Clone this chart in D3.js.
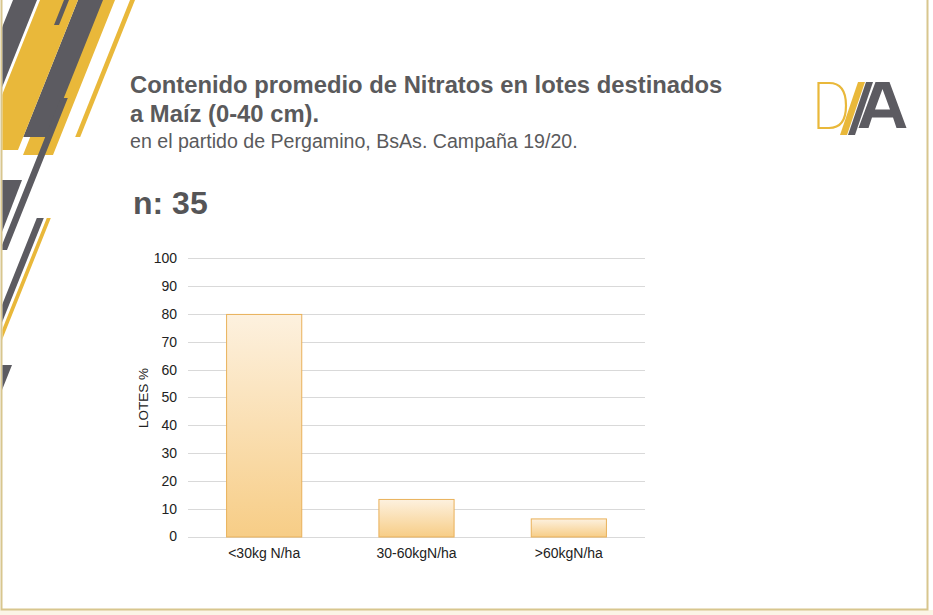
<!DOCTYPE html>
<html>
<head>
<meta charset="utf-8">
<script src="https://cdn.jsdelivr.net/npm/d3@7"></script>
<style>
  html, body { margin: 0; padding: 0; background: #ffffff; }
  svg { display: block; font-family: "Liberation Sans", Arial, sans-serif; }
</style>
</head>
<body>
<svg id="chart" width="933" height="615"></svg>
<script>
// ---- data ----
const categories = ["<30kg N/ha", "30-60kgN/ha", ">60kgN/ha"];
const values = [80, 13.5, 6.5];
const yTicks = [0, 10, 20, 30, 40, 50, 60, 70, 80, 90, 100];
const titleLines = ["Contenido promedio de Nitratos en lotes destinados", "a Maíz (0-40 cm)."];
const subtitle = "en el partido de Pergamino, BsAs. Campaña 19/20.";
const nLabel = "n: 35";
const yLabel = "LOTES %";

const svg = d3.select("#chart");
const W = 933, H = 615;

const GOLD = "#e9b83a", GRAY = "#5c5b61", FRAME = "#d8c68e", TEXT = "#5a5a5c";

// ---- frame ----
svg.append("rect").attr("x", 0).attr("y", 610).attr("width", W).attr("height", 5).attr("fill", "#fbf5e6");
svg.append("path")
  .attr("d", "M1.5,0 V609.5 H927.5 V0")
  .attr("fill", "none").attr("stroke", FRAME).attr("stroke-width", 2);

// ---- decoration (left stripes) ----
const defs = svg.append("defs");
defs.append("clipPath").attr("id", "decoClip")
  .append("rect").attr("x", 2.5).attr("y", 0).attr("width", 200).attr("height", 420);
const deco = svg.append("g").attr("clip-path", "url(#decoClip)");
const s = 0.4;
function para(xTop, w, y1, y2) {
  return `M${xTop - s*y1},${y1} L${xTop + w - s*y1},${y1} L${xTop + w - s*y2},${y2} L${xTop - s*y2},${y2} Z`;
}
const stripes = [
  {x: 85, w: 30, y1: 0, y2: 155, c: GOLD},
  {x: 78, w: 25, y1: 0, y2: 137, c: GRAY},
  {x: 40, w: 38, y1: 0, y2: 150, c: GOLD},
  {x: 64, w: 5, y1: 0, y2: 25, c: GRAY},
  {x: 13, w: 24, y1: 0, y2: 120, c: GRAY},
  {x: 130, w: 5, y1: 0, y2: 137, c: GOLD},
  {x: 100, w: 7, y1: 98, y2: 250, c: GRAY},
  {x: 124, w: 7, y1: 218, y2: 330, c: GRAY},
  {x: 134, w: 4, y1: 218, y2: 345, c: GOLD}
];
stripes.forEach(d => deco.append("path").attr("d", para(d.x, d.w, d.y1, d.y2)).attr("fill", d.c));
deco.append("path").attr("d", "M2,180 L22,180 L2,232 Z").attr("fill", GRAY);
deco.append("path").attr("d", "M2,365 L12,365 L2,390 Z").attr("fill", GRAY);

// ---- logo D/A ----
const logo = svg.append("g");
logo.append("path")
  .attr("d", "M818.5,83 H829 C843,83 846,95 846,105.5 C846,116 843,128 829,128 H818.5 Z")
  .attr("fill", "none").attr("stroke", GOLD).attr("stroke-width", 2.2);
logo.append("path").attr("d", "M858,82 L865,82 L847,135 L840,135 Z").attr("fill", GOLD);
logo.append("path").attr("d", "M866,82 L873,82 L855,135 L848,135 Z").attr("fill", GRAY);
logo.append("path")
  .attr("d", "M875.5,82 L889.5,82 L906.5,128 L896.5,128 L893,117.5 L872,117.5 L868.5,128 L858.5,128 Z M875,109.5 L890,109.5 L882.5,89 Z")
  .attr("fill", GRAY).attr("fill-rule", "evenodd");

// ---- titles ----
svg.append("text").attr("x", 130).attr("y", 93)
  .attr("font-size", 23.8).attr("font-weight", "bold").attr("fill", TEXT).text(titleLines[0]);
svg.append("text").attr("x", 130).attr("y", 121.5)
  .attr("font-size", 23.8).attr("font-weight", "bold").attr("fill", TEXT).text(titleLines[1]);
svg.append("text").attr("x", 130).attr("y", 147.5)
  .attr("font-size", 19.6).attr("fill", TEXT).text(subtitle);
svg.append("text").attr("x", 133).attr("y", 214)
  .attr("font-size", 32).attr("font-weight", "bold").attr("fill", "#555557").text(nLabel);

// ---- chart ----
const x0 = 188, x1 = 645, yTop = 258.3, yBot = 536.5;
const x = d3.scaleBand().domain(categories).range([x0, x1]).paddingInner(0.5).paddingOuter(0.25);
const y = d3.scaleLinear().domain([0, 100]).range([yBot, yTop]);

const grad = defs.append("linearGradient").attr("id", "barGrad")
  .attr("x1", 0).attr("y1", 0).attr("x2", 0).attr("y2", 1);
grad.append("stop").attr("offset", "0%").attr("stop-color", "#fdf1df");
grad.append("stop").attr("offset", "100%").attr("stop-color", "#f7cd86");

svg.append("g").selectAll("line").data(yTicks).join("line")
  .attr("x1", x0).attr("x2", x1)
  .attr("y1", d => Math.round(y(d)) + 0.5).attr("y2", d => Math.round(y(d)) + 0.5)
  .attr("stroke", "#d9d9d9").attr("stroke-width", 1);

const yAxis = svg.append("g").attr("transform", `translate(${x0},0)`)
  .call(d3.axisLeft(y).tickValues(yTicks).tickSize(0).tickPadding(11));
yAxis.select(".domain").remove();
yAxis.selectAll("text").attr("font-size", 14).attr("fill", "#222")
  .attr("font-family", "'Liberation Sans', Arial, sans-serif");

svg.append("g").selectAll("rect").data(values).join("rect")
  .attr("x", (d, i) => x(categories[i]) + 0.5)
  .attr("y", d => y(d) + 0.5)
  .attr("width", x.bandwidth() - 1)
  .attr("height", d => yBot - y(d))
  .attr("fill", "url(#barGrad)")
  .attr("stroke", "#e9b15a").attr("stroke-width", 1);

const xAxis = svg.append("g").attr("transform", `translate(0,${yBot})`)
  .call(d3.axisBottom(x).tickSize(0).tickPadding(12));
xAxis.select(".domain").remove();
xAxis.selectAll("text").attr("font-size", 14).attr("fill", "#222")
  .attr("font-family", "'Liberation Sans', Arial, sans-serif");

svg.append("text")
  .attr("transform", "translate(148,398) rotate(-90)")
  .attr("text-anchor", "middle").attr("font-size", 13.5).attr("fill", "#222")
  .text(yLabel);
</script>
</body>
</html>
